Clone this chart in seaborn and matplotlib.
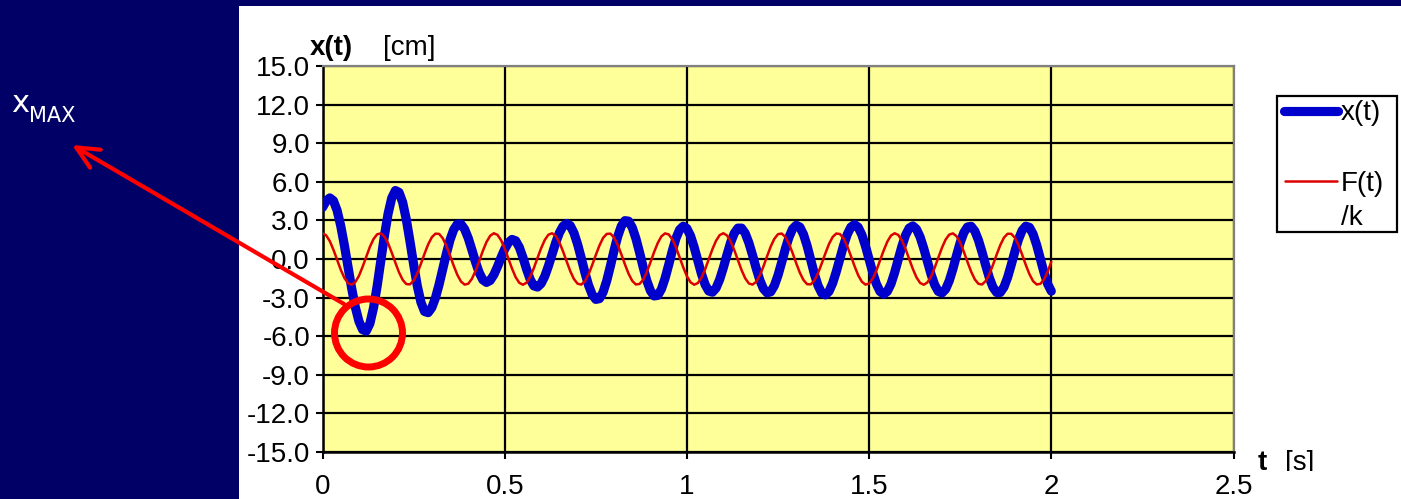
import numpy as np
import matplotlib
matplotlib.use("Agg")
import matplotlib.pyplot as plt
import seaborn as sns
from matplotlib.patches import Rectangle, Ellipse, FancyArrowPatch
from matplotlib.lines import Line2D
from matplotlib.transforms import Bbox, TransformedBbox

# ---------------- data ----------------
T_STEP = 0.01  # sampling interval [s]

x_t = [
    4.00, 4.50, 4.75, 4.53, 3.78, 2.58, 1.07, -0.61, -2.27, -3.73,
    -4.84, -5.49, -5.60, -5.02, -3.80, -2.10, -0.14, 1.82, 3.52, 4.74,
    5.32, 5.18, 4.40, 3.07, 1.38, -0.41, -2.07, -3.35, -4.08, -4.17,
    -3.78, -3.02, -1.98, -0.78, 0.42, 1.49, 2.28, 2.71, 2.71, 2.32,
    1.62, 0.71, -0.24, -1.06, -1.62, -1.82, -1.67, -1.24, -0.61, 0.11,
    0.77, 1.27, 1.52, 1.42, 0.92, 0.12, -0.79, -1.59, -2.09, -2.18,
    -1.91, -1.34, -0.54, 0.37, 1.27, 2.03, 2.55, 2.76, 2.59, 2.03,
    1.15, 0.08, -1.04, -2.03, -2.76, -3.14, -3.08, -2.58, -1.69, -0.56,
    0.65, 1.74, 2.56, 2.98, 2.94, 2.45, 1.60, 0.52, -0.64, -1.69,
    -2.47, -2.87, -2.83, -2.35, -1.51, -0.46, 0.64, 1.61, 2.28, 2.55,
    2.37, 1.80, 0.91, -0.13, -1.16, -1.99, -2.49, -2.58, -2.26, -1.59,
    -0.68, 0.33, 1.28, 2.00, 2.40, 2.40, 2.00, 1.26, 0.31, -0.71,
    -1.63, -2.31, -2.63, -2.55, -2.07, -1.27, -0.27, 0.77, 1.68, 2.34,
    2.62, 2.48, 1.91, 1.01, -0.09, -1.18, -2.08, -2.65, -2.79, -2.52,
    -1.88, -0.98, 0.04, 1.06, 1.91, 2.48, 2.68, 2.47, 1.89, 1.01,
    -0.03, -1.06, -1.94, -2.52, -2.73, -2.52, -1.94, -1.06, -0.03, 0.99,
    1.85, 2.40, 2.57, 2.32, 1.71, 0.82, -0.20, -1.19, -2.01, -2.52,
    -2.64, -2.35, -1.69, -0.77, 0.28, 1.27, 2.05, 2.49, 2.54, 2.18,
    1.47, 0.53, -0.50, -1.46, -2.20, -2.60, -2.60, -2.19, -1.44, -0.46,
    0.58, 1.53, 2.22, 2.55, 2.46, 1.94, 1.07, 0.01, -1.05, -1.94,
    -2.50,
]

f_over_k = [
    2.00, 1.84, 1.39, 0.72, -0.06, -0.83, -1.47, -1.88, -2.00, -1.79,
    -1.31, -0.61, 0.17, 0.94, 1.55, 1.92, 1.99, 1.74, 1.22, 0.50,
    -0.29, -1.04, -1.62, -1.95, -1.97, -1.68, -1.12, -0.38, 0.41, 1.14,
    1.69, 1.97, 1.95, 1.61, 1.02, 0.27, -0.52, -1.23, -1.75, -1.99,
    -1.92, -1.54, -0.92, -0.16, 0.63, 1.32, 1.80, 2.00, 1.88, 1.46,
    0.82, 0.04, -0.74, -1.41, -1.85, -2.00, -1.84, -1.38, -0.71, 0.08,
    0.84, 1.48, 1.89, 2.00, 1.79, 1.29, 0.60, -0.19, -0.95, -1.56,
    -1.92, -1.99, -1.73, -1.20, -0.48, 0.31, 1.05, 1.64, 1.95, 1.97,
    1.67, 1.11, 0.37, -0.42, -1.15, -1.70, -1.98, -1.94, -1.61, -1.01,
    -0.26, 0.54, 1.24, 1.76, 1.99, 1.91, 1.53, 0.91, 0.14, -0.65,
    -1.34, -1.81, -2.00, -1.87, -1.45, -0.80, -0.02, 0.76, 1.42, 1.86,
    2.00, 1.83, 1.37, 0.69, -0.09, -0.86, -1.50, -1.90, -1.99, -1.78,
    -1.28, -0.58, 0.21, 0.97, 1.57, 1.93, 1.98, 1.72, 1.19, 0.47,
    -0.33, -1.07, -1.64, -1.96, -1.97, -1.66, -1.09, -0.35, 0.44, 1.17,
    1.71, 1.98, 1.94, 1.59, 0.99, 0.24, -0.55, -1.26, -1.76, -1.99,
    -1.91, -1.52, -0.89, -0.12, 0.66, 1.35, 1.82, 2.00, 1.87, 1.44,
    0.78, 0.01, -0.77, -1.43, -1.86, -2.00, -1.82, -1.36, -0.67, 0.11,
    0.88, 1.51, 1.90, 1.99, 1.77, 1.27, 0.56, -0.23, -0.98, -1.58,
    -1.93, -1.98, -1.71, -1.18, -0.45, 0.34, 1.08, 1.66, 1.96, 1.96,
    1.65, 1.08, 0.34, -0.46, -1.18, -1.72, -1.98, -1.93, -1.58, -0.98,
    -0.22,
]

x_ticks = [0, 0.5, 1, 1.5, 2, 2.5]
x_tick_labels = ["0", "0.5", "1", "1.5", "2", "2.5"]
y_ticks = [-15, -12, -9, -6, -3, 0, 3, 6, 9, 12, 15]
y_tick_labels = ["-15.0", "-12.0", "-9.0", "-6.0", "-3.0", "0.0",
                 "3.0", "6.0", "9.0", "12.0", "15.0"]
series_names = ["x(t)", "F(t)\n/k"]

# ---------------- style ----------------
NAVY = "#000066"
BLUE = "#0000CC"
DARKRED = "#DD0000"
RED = "#FF0000"
YELLOW = "#FFFF99"
FONT = "Liberation Sans"
FS = 20

sns.set_style("white")
plt.rcParams["font.family"] = [FONT, "DejaVu Sans"]
plt.rcParams["axes.unicode_minus"] = False
plt.rcParams["text.color"] = "black"
plt.rcParams["xtick.color"] = "black"
plt.rcParams["ytick.color"] = "black"

W, H = 1401, 499


def px(x, y):
    return (x / W, 1 - y / H)


fig = plt.figure(figsize=(W / 100, H / 100), dpi=100, facecolor=NAVY)

# white slide panel
fig.add_artist(Rectangle((239 / W, 0), 1 - 239 / W, (H - 6) / H,
                         transform=fig.transFigure, facecolor="white",
                         edgecolor="none", zorder=-10))

L, R, T, B = 322.5, 1233.5, 66, 452
ax = fig.add_axes([L / W, 1 - B / H, (R - L) / W, (B - T) / H])
ax.set_facecolor(YELLOW)

t = np.arange(len(x_t)) * T_STEP
t2 = np.arange(len(f_over_k)) * T_STEP

sns.lineplot(x=t, y=x_t, ax=ax, color=BLUE, linewidth=6.6,
             solid_capstyle="round", solid_joinstyle="round", zorder=4,
             sort=False, estimator=None)
sns.lineplot(x=t2, y=f_over_k, ax=ax, color=DARKRED, linewidth=1.8,
             zorder=5, sort=False, estimator=None)

ax.set_xlim(0, 2.5)
ax.set_ylim(-15, 15)
ax.set_xticks(x_ticks)
ax.set_xticklabels(x_tick_labels)
ax.set_yticks(y_ticks)
ax.set_yticklabels(y_tick_labels)
ax.set_xlabel("")
ax.set_ylabel("")
ax.grid(True, color="black", linewidth=1.6)
ax.set_axisbelow(True)
for s in ["left", "bottom"]:
    ax.spines[s].set_color("black")
    ax.spines[s].set_linewidth(1.8)
for s in ["top", "right"]:
    ax.spines[s].set_color("#808080")
    ax.spines[s].set_linewidth(1.6)
ax.tick_params(axis="both", direction="out", length=5, width=1.5,
               colors="black", labelcolor="black", labelsize=FS,
               bottom=True, left=True)
ax.tick_params(axis="y", pad=4)
ax.tick_params(axis="x", pad=11)
if ax.get_legend() is not None:
    ax.get_legend().remove()

# axis titles
fig.text(*px(310, 48), "x(t)", fontsize=FS, fontweight="bold",
         va="center", ha="left", family=FONT, color="black")
fig.text(*px(383, 48), "[cm]", fontsize=FS, va="center", ha="left",
         family=FONT, color="black")
clip = TransformedBbox(Bbox([[0, 1 - 471 / H], [1, 1]]), fig.transFigure)
for xx, s, w in [(1258, "t", "bold"), (1285, "[s]", "normal")]:
    tt = fig.text(*px(xx, 463), s, fontsize=FS, fontweight=w,
                  va="center", ha="left", family=FONT, color="black")
    tt.set_clip_box(clip)
    tt.set_clip_on(True)

# legend (drawn as in the source: handle aligned with first text line)
fig.add_artist(Rectangle(px(1277, 232), 120 / W, 136 / H,
                         transform=fig.transFigure, facecolor="white",
                         edgecolor="black", linewidth=1.6, zorder=6))
fig.add_artist(Line2D([1284 / W, 1338 / W], [1 - 111 / H] * 2,
                      transform=fig.transFigure, color=BLUE, linewidth=6.6,
                      solid_capstyle="round", zorder=7))
fig.add_artist(Line2D([1285 / W, 1337 / W], [1 - 181 / H] * 2,
                      transform=fig.transFigure, color=DARKRED,
                      linewidth=1.8, zorder=7))
fig.text(*px(1341, 113), series_names[0], fontsize=FS, va="center",
         ha="left", family=FONT, zorder=8, color="black")
lbl = series_names[1].split("\n")
fig.text(*px(1341, 184), lbl[0], fontsize=FS, va="center", ha="left",
         family=FONT, zorder=8, color="black")
fig.text(*px(1341, 218), lbl[1], fontsize=FS, va="center", ha="left",
         family=FONT, zorder=8, color="black")

# x_MAX annotation
fig.text(*px(11, 112), "x", fontsize=22, color="white", va="baseline",
         ha="left", family="DejaVu Sans")
fig.text(*px(29, 122), "MAX", fontsize=15, color="white", va="baseline",
         ha="left", family="DejaVu Sans")

fig.add_artist(Ellipse(px(368.5, 333), 68 / W, 68 / H, fill=False,
                       edgecolor=RED, linewidth=5, transform=fig.transFigure,
                       zorder=9))
fig.add_artist(FancyArrowPatch(px(344, 304), px(72, 145),
                               transform=fig.transFigure,
                               arrowstyle="->,head_length=16,head_width=7.5",
                               mutation_scale=1, color=RED, linewidth=3,
                               shrinkA=0, shrinkB=0, zorder=9))

fig.savefig("out.png", dpi=100, facecolor=NAVY)
